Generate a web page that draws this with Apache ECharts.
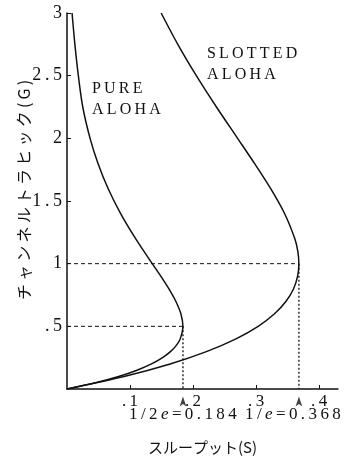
<!DOCTYPE html>
<html lang="ja">
<head>
  <meta charset="utf-8">
  <title>ALOHA throughput</title>
  <script src="https://fastly.jsdelivr.net/npm/echarts@6.0.0/dist/echarts.min.js"></script>
  <style>
    * { margin: 0; padding: 0; }
    body { background: #fff; }
    #chart { width: 354px; height: 460px; }
  </style>
</head>
<body>
  <div id="chart"></div>
  <script>
    // offered traffic G (y) and throughput S (x)
    var pureG = [0, 0.05, 0.1, 0.15, 0.2, 0.25, 0.3, 0.35, 0.4, 0.5, 0.6, 0.7, 0.8, 0.9, 1.0, 1.2, 1.4, 1.6, 1.8, 2.0, 2.25, 2.5, 2.75, 3.0];
    var pureS = [0, 0.0452, 0.0819, 0.1111, 0.1341, 0.1516, 0.1646, 0.1738, 0.1797, 0.1839, 0.1807, 0.1726, 0.1615, 0.1488, 0.1353, 0.1089, 0.0851, 0.0652, 0.0492, 0.0366, 0.0250, 0.0180, 0.0125, 0.0080];
    var slotG = [0, 0.1, 0.2, 0.3, 0.4, 0.5, 0.6, 0.7, 0.8, 0.9, 1.0, 1.1, 1.2, 1.4, 1.6, 1.8, 2.0, 2.25, 2.5, 2.75, 3.0];
    var slotS = [0, 0.0905, 0.1637, 0.2222, 0.2681, 0.3033, 0.3293, 0.3476, 0.3595, 0.3659, 0.3679, 0.3662, 0.3614, 0.3452, 0.3230, 0.2975, 0.2707, 0.2371, 0.2052, 0.1758, 0.1494];
    var peakS = [0.184, 0.368];
    var peakG = [0.5, 1];
    var peakText = ['1/2e=0.184', '1/e=0.368'];
    var xTicks = ['.1', '.2', '.3', '.4'];
    var yTicks = ['.5', '1', '1.5', '2', '2.5', '3'];

    function pairs(xs, ys) {
      return xs.map(function (x, i) { return [x, ys[i]]; });
    }

    var serif = '"Liberation Serif", "DejaVu Serif", serif';
    var ts = '\u2009'; // thin space for the wide lettering of the original
    function spaced(str) { return str.split('').join(ts); }

    var series = [
      {
        type: 'line', data: pairs(pureS, pureG), smooth: 0.3, showSymbol: false,
        lineStyle: { color: '#111', width: 1.5 }
      },
      {
        type: 'line', data: pairs(slotS, slotG), smooth: 0.3, showSymbol: false,
        lineStyle: { color: '#111', width: 1.5 }
      }
    ];
    peakS.forEach(function (s, i) {
      // horizontal dashed guide
      series.push({
        type: 'line', data: [[0, peakG[i]], [s, peakG[i]]], showSymbol: false,
        lineStyle: { color: '#111', width: 1, type: [4, 3] }
      });
      // vertical dotted guide
      series.push({
        type: 'line', data: [[s, peakG[i]], [s, 0]], showSymbol: false,
        lineStyle: { color: '#111', width: 1.3, type: [2, 2] }
      });
    });
    // small arrows under the axis
    series.push({
      type: 'scatter', clip: false, symbol: 'arrow', symbolSize: [5, 10],
      itemStyle: { color: '#111' },
      data: peakS.map(function (s) { return [s, -0.06]; })
    });

    // "1/2e=0.184" style labels with italic e
    function formula(str) {
      var parts = str.split('e');
      return '{n|' + spaced(parts[0]) + ts + '}{e|e}{n|' + ts + spaced(parts[1]) + '}';
    }
    var formulaRich = {
      n: { fontFamily: serif, fontSize: 17, fill: '#111' },
      e: { fontFamily: serif, fontSize: 17, fontStyle: 'italic', fill: '#111' }
    };

    var chart = echarts.init(document.getElementById('chart'), null, { renderer: 'canvas' });
    chart.setOption({
      animation: false,
      grid: { left: 67, right: 16, top: 13, bottom: 70 },
      xAxis: {
        type: 'value', min: 0, max: 0.43, interval: 0.1,
        name: 'スループット(S)', nameLocation: 'middle', nameGap: 51,
        nameTextStyle: { fontFamily: 'Noto Sans CJK JP', fontSize: 15, color: '#111' },
        axisLine: { lineStyle: { color: '#111', width: 1.5 } },
        axisTick: { inside: true, length: 4, lineStyle: { color: '#111' } },
        splitLine: { show: false },
        axisLabel: {
          showMaxLabel: false, showMinLabel: false, margin: 4,
          fontFamily: serif, fontSize: 17, color: '#111',
          formatter: function (v) {
            var k = Math.round(v * 10);
            return (k >= 1 && k <= xTicks.length && Math.abs(v * 10 - k) < 1e-6) ? spaced(xTicks[k - 1]) : '';
          }
        }
      },
      yAxis: {
        type: 'value', min: 0, max: 3, interval: 0.5,
        axisLine: { show: true, lineStyle: { color: '#111', width: 1.5 } },
        axisTick: { show: true, inside: true, length: 4, lineStyle: { color: '#111' } },
        splitLine: { show: false },
        axisLabel: {
          showMinLabel: false, margin: 5,
          fontFamily: serif, fontSize: 18, color: '#111',
          formatter: function (v) {
            var k = Math.round(v * 2);
            return k >= 1 ? spaced(yTicks[k - 1]) : '';
          }
        }
      },
      graphic: [
        {
          type: 'text', x: 24, y: 190, rotation: Math.PI / 2,
          style: {
            text: spaced('チャンネルトラヒック(G)'), align: 'center', verticalAlign: 'middle',
            font: '16px "Noto Sans CJK JP"', fill: '#111'
          }
        },
        {
          type: 'text', left: 92, top: 78,
          style: { text: spaced('PURE') + '\n' + spaced('ALOHA'), font: '16px "Liberation Serif"', fill: '#111', lineHeight: 21 }
        },
        {
          type: 'text', left: 207, top: 43,
          style: { text: spaced('SLOTTED') + '\n' + spaced('ALOHA'), font: '16px "Liberation Serif"', fill: '#111', lineHeight: 21 }
        },
        {
          type: 'text', left: 129, top: 406,
          style: { text: formula(peakText[0]), rich: formulaRich }
        },
        {
          type: 'text', left: 245, top: 406,
          style: { text: formula(peakText[1]), rich: formulaRich }
        }
      ],
      series: series
    });
  </script>
</body>
</html>
